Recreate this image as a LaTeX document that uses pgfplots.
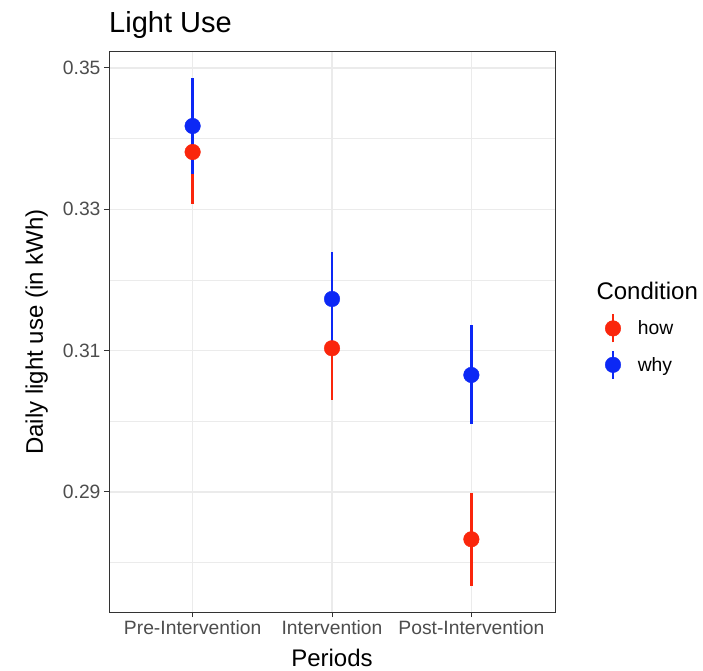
\documentclass[border=0pt]{standalone}
\usepackage{pgfplots}
\pgfplotsset{compat=1.18}
\usepackage{fontspec}
\setmainfont{Liberation Sans}
\definecolor{howred}{RGB}{250,38,12}
\definecolor{whyblue}{RGB}{12,40,245}
\definecolor{grey92}{RGB}{235,235,235}
\definecolor{grey30}{RGB}{77,77,77}
\definecolor{grey20}{RGB}{51,51,51}
\newcommand{\tickfont}{\fontsize{19.3bp}{23bp}\selectfont}
\newcommand{\labfont}{\fontsize{24bp}{28bp}\selectfont}
\newcommand{\titfont}{\fontsize{29bp}{34bp}\selectfont}
\begin{document}
\begin{tikzpicture}
\useasboundingbox (-109bp,-59bp) rectangle (594bp,612bp);
\begin{axis}[
  at={(0,0)}, anchor=south west, scale only axis,
  width=446bp, height=560bp,
  xmin=-0.6, xmax=2.6, ymin=0.27302, ymax=0.35226,
  xtick={0,1,2}, xticklabels={Pre-Intervention,Intervention,Post-Intervention},
  ytick={0.29,0.31,0.33,0.35}, yticklabels={0.29,0.31,0.33,0.35},
  minor ytick={0.28,0.30,0.32,0.34},
  xmajorgrids, ymajorgrids, yminorgrids,
  major grid style={grey92, line width=1.1bp},
  minor grid style={grey92, line width=0.55bp},
  axis line style={grey20, line width=1bp},
  tick align=outside, major tick length=5bp, minor tick length=0pt,
  tick pos=left,
  major tick style={grey20, line width=1bp},
  tick label style={font=\tickfont, text=grey30},
  legend style={draw=none, fill=none, at={(axis description cs:1.1121,0.5339)},
    anchor=north west, row sep=6bp, column sep=17bp, font=\tickfont,
    inner sep=0pt, cells={anchor=west}, nodes={inner sep=0pt}},
  legend image code/.code={
    \draw[#1, mark=none, line width=2.4bp] (0bp,-14bp) -- (0bp,14bp);
    \draw[#1] plot coordinates {(0bp,0bp)};},
]
% ranges (lines) first, as ggplot draws them
\addplot[draw=none, mark=none, forget plot,
  error bars/.cd, y dir=both, y explicit, error mark=none,
  error bar style={draw=howred, line width=2.5bp}]
  coordinates {
   (0,0.33811) +- (0,0.00735)
   (1,0.31034) +- (0,0.00732)
   (2,0.28331) +- (0,0.00656)
  };
\addplot[draw=none, mark=none, forget plot,
  error bars/.cd, y dir=both, y explicit, error mark=none,
  error bar style={draw=whyblue, line width=2.5bp}]
  coordinates {
   (0,0.34179) +- (0,0.00685)
   (1,0.31731) +- (0,0.00661)
   (2,0.30656) +- (0,0.00700)
  };
% points
\addplot[only marks, mark=*, mark size=7.8bp, color=howred,
  mark options={draw=none, fill=howred}]
  coordinates {(0,0.33811) (1,0.31034) (2,0.28331)};
\addlegendentry{how}
\addplot[only marks, mark=*, mark size=7.8bp, color=whyblue,
  mark options={draw=none, fill=whyblue}]
  coordinates {(0,0.34179) (1,0.31731) (2,0.30656)};
\addlegendentry{why}
\end{axis}
\node[anchor=base west, font=\titfont, inner sep=0pt] at (0bp,579bp) {Light Use};
\node[anchor=base, rotate=90, font=\labfont] at (-66bp,280bp) {Daily light use (in kWh)};
\node[anchor=base, font=\labfont] at (223bp,-54bp) {Periods};
\node[anchor=base west, font=\labfont] at (484bp,312bp) {Condition};
\end{tikzpicture}
\end{document}
